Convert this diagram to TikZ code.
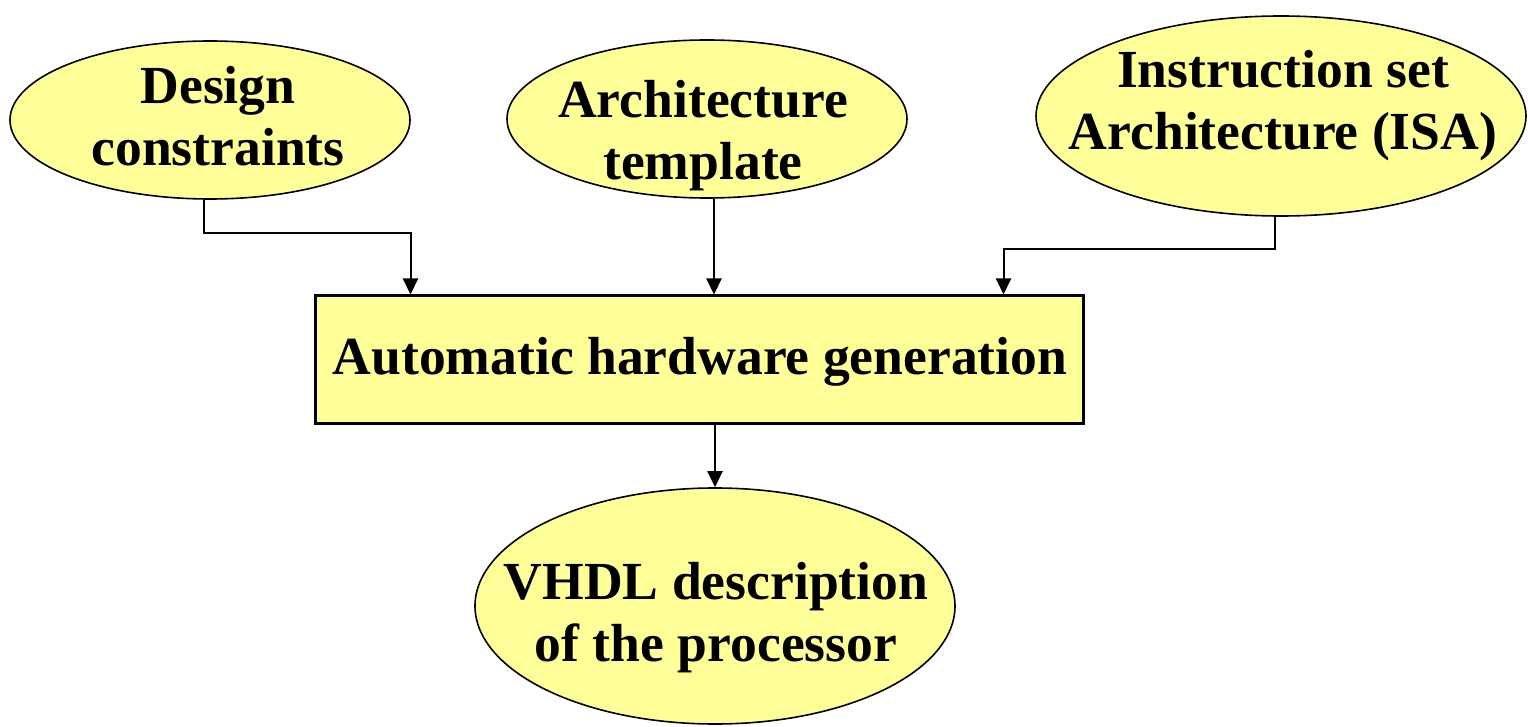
\documentclass[tikz,border=0pt]{standalone}
\usepackage{fontspec}
\setmainfont{Liberation Serif}
\usetikzlibrary{shapes.geometric,arrows.meta,calc}

\definecolor{paleyellow}{HTML}{FFFF99}

\tikzset{
  bubble/.style={ellipse, draw=black, line width=0.8pt, fill=paleyellow, inner sep=0pt},
  procbox/.style={rectangle, draw=black, line width=1.5pt, fill=paleyellow, inner sep=0pt},
  caption/.style={align=center, inner sep=0pt, font=\fontsize{26.8pt}{31pt}\selectfont\bfseries},
  flow/.style={line width=1pt, -{Triangle[width=7.5pt,length=8pt]}}
}

\begin{document}
\begin{tikzpicture}[x=0.5pt, y=-0.5pt]
  \useasboundingbox (0,0) rectangle (1528,727);

  % inputs
  \node[bubble, minimum width=200pt, minimum height=79pt] (design) at (210,120) {};
  \node[caption] (designtxt) at (218,116) {Design\\constraints};

  \node[bubble, minimum width=200pt, minimum height=79pt] (arch) at (707,119) {};
  \node[caption] (archtxt) at (703,136) {Architecture\\template};

  \node[bubble, minimum width=245pt, minimum height=100pt] (isa) at (1281,116) {};
  \node[caption] (isatxt) at (1283,106) {Instruction set\\Architecture (ISA)};

  % generator
  \node[procbox, minimum width=384pt, minimum height=64pt] (gen) at (699,360) {};
  \node[caption] (gentxt) at (700,362) {Automatic hardware generation};

  % output
  \node[bubble, minimum width=240pt, minimum height=118pt] (vhdl) at (715,606) {};
  \node[caption] (vhdltxt) at (716,618) {VHDL description\\of the processor};

  % connector end points
  \coordinate (designout) at ($(design.south)+(-6,0)$);
  \coordinate (archout) at ($(arch.south)+(7,0)$);
  \coordinate (isaout) at ($(isa.south)+(-6,0)$);

  % connectors
  \draw[flow] (designout) -- ++(0,33) -| ($(gen.north west)+(97,0)$);
  \draw[flow] (archout) -- (archout |- gen.north);
  \draw[flow] (isaout) -- ++(0,32) -| ($(gen.north east)+(-81,0)$);
  \draw[flow] (gen.south -| vhdl.north) -- (vhdl.north);
\end{tikzpicture}
\end{document}
